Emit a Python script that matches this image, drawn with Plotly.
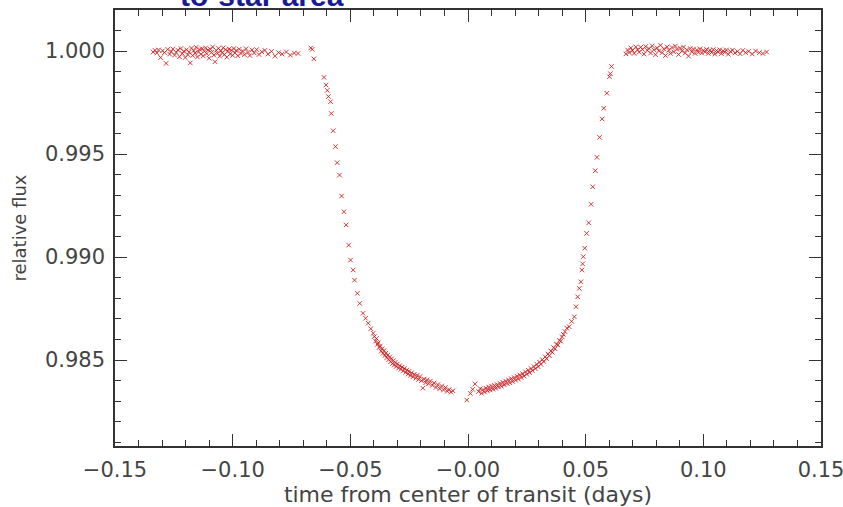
import plotly.graph_objects as go

# ---- data (time in days, relative flux) ----
pre_t = [-0.1338, -0.1330, -0.1322, -0.1315, -0.1306, -0.1298, -0.1290, -0.1283, -0.1276, -0.1268,
         -0.1261, -0.1254, -0.1247, -0.1240, -0.1233, -0.1226, -0.1220, -0.1214, -0.1208, -0.1202,
         -0.1196, -0.1190, -0.1185, -0.1180, -0.1175, -0.1170, -0.1165, -0.1160, -0.1155, -0.1150,
         -0.1145, -0.1140, -0.1135, -0.1130, -0.1125, -0.1120, -0.1115, -0.1110, -0.1105, -0.1100,
         -0.1095, -0.1090, -0.1085, -0.1080, -0.1075, -0.1070, -0.1065, -0.1060, -0.1055, -0.1050,
         -0.1045, -0.1040, -0.1035, -0.1030, -0.1025, -0.1020, -0.1015, -0.1010, -0.1005, -0.1000,
         -0.0995, -0.0990, -0.0985, -0.0978, -0.0972, -0.0965, -0.0958, -0.0950, -0.0943, -0.0935,
         -0.0927, -0.0918, -0.0908, -0.0898, -0.0888, -0.0876, -0.0863, -0.0850, -0.0835, -0.0820,
         -0.0805, -0.0790, -0.0772, -0.0755, -0.0738, -0.0722, -0.0668, -0.0662, -0.0655]
pre_f = [0.99995, 1.00003, 0.99990, 1.00005, 0.99968, 1.00001, 0.99992, 0.99940, 1.00008, 0.99985,
         0.99997, 1.00010, 0.99980, 0.99993, 1.00004, 0.99972, 1.00012, 0.99988, 0.99998, 0.99968,
         1.00006, 0.99982, 0.99995, 0.99942, 1.00014, 0.99978, 1.00002, 0.99990, 1.00018, 0.99971,
         0.99996, 1.00008, 0.99984, 1.00011, 0.99976, 0.99999, 1.00015, 0.99987, 1.00005, 0.99965,
         1.00009, 0.99993, 1.00020, 0.99980, 0.99948, 1.00003, 0.99989, 1.00013, 0.99975, 1.00001,
         0.99992, 1.00016, 0.99983, 1.00006, 0.99970, 0.99998, 1.00010, 0.99986, 1.00004, 0.99979,
         1.00012, 0.99991, 1.00002, 0.99977, 1.00009, 0.99988, 1.00000, 0.99982, 1.00011, 0.99993,
         0.99978, 1.00005, 0.99990, 1.00007, 0.99983, 0.99996, 1.00003, 0.99985, 0.99998, 0.99975,
         0.99992, 0.99985, 0.99995, 0.99980, 0.99990, 0.99988, 1.00015, 1.00008, 0.99962]

ingress_t = [-0.0612, -0.0603, -0.0598, -0.0593, -0.0584, -0.0581, -0.0573, -0.0563, -0.0556, -0.0546,
             -0.0537, -0.0527, -0.0518, -0.0507, -0.0499, -0.0488, -0.0482, -0.0470, -0.0460, -0.0446,
             -0.0435, -0.0424, -0.0413, -0.0403]
ingress_f = [0.99872, 0.99835, 0.99809, 0.99779, 0.99754, 0.99697, 0.99613, 0.99536, 0.99458, 0.99398,
             0.99296, 0.99220, 0.99156, 0.99058, 0.98985, 0.98937, 0.98888, 0.98824, 0.98775, 0.98727,
             0.98703, 0.98679, 0.98652, 0.98630]

bottom_left_t = [-0.0398, -0.0393, -0.0389, -0.0385, -0.0381, -0.0377, -0.0373, -0.0369, -0.0365, -0.0361,
                 -0.0357, -0.0353, -0.0349, -0.0345, -0.0341, -0.0337, -0.0333, -0.0329, -0.0325, -0.0321,
                 -0.0317, -0.0313, -0.0309, -0.0305, -0.0300, -0.0295, -0.0290, -0.0285, -0.0280, -0.0275,
                 -0.0270, -0.0265, -0.0260, -0.0255, -0.0250, -0.0245, -0.0240, -0.0234, -0.0228, -0.0222,
                 -0.0216, -0.0210, -0.0204, -0.0198, -0.0192, -0.0186, -0.0180, -0.0174, -0.0168, -0.0160,
                 -0.0152, -0.0144, -0.0136, -0.0128, -0.0120, -0.0112, -0.0104, -0.0096, -0.0088, -0.0080,
                 -0.0072, -0.0064]
bottom_left_f = [0.98614, 0.98592, 0.98605, 0.98576, 0.98584, 0.98561, 0.98568, 0.98543, 0.98555, 0.98533,
                 0.98546, 0.98522, 0.98533, 0.98511, 0.98524, 0.98502, 0.98515, 0.98492, 0.98506, 0.98483,
                 0.98497, 0.98476, 0.98489, 0.98469, 0.98481, 0.98461, 0.98473, 0.98455, 0.98466, 0.98447,
                 0.98459, 0.98440, 0.98452, 0.98432, 0.98446, 0.98425, 0.98438, 0.98419, 0.98431, 0.98412,
                 0.98426, 0.98406, 0.98420, 0.98400, 0.98364, 0.98408, 0.98390, 0.98404, 0.98385, 0.98398,
                 0.98377, 0.98389, 0.98367, 0.98381, 0.98361, 0.98374, 0.98355, 0.98367, 0.98349, 0.98357,
                 0.98344, 0.98351]

center_t = [-0.0005, 0.0010, 0.0020, 0.0030]
center_f = [0.98306, 0.98338, 0.98358, 0.98384]

bottom_right_t = [0.0045, 0.0052, 0.0058, 0.0064, 0.0070, 0.0076, 0.0082, 0.0088, 0.0094, 0.0100,
                  0.0106, 0.0112, 0.0118, 0.0124, 0.0130, 0.0136, 0.0142, 0.0148, 0.0154, 0.0160,
                  0.0166, 0.0172, 0.0178, 0.0184, 0.0190, 0.0196, 0.0202, 0.0208, 0.0214, 0.0220,
                  0.0226, 0.0232, 0.0238, 0.0244, 0.0250, 0.0256, 0.0262, 0.0268, 0.0274, 0.0280,
                  0.0286, 0.0292, 0.0298, 0.0304, 0.0310, 0.0316, 0.0322, 0.0328, 0.0334, 0.0340,
                  0.0346, 0.0352, 0.0358, 0.0364, 0.0370, 0.0376, 0.0382, 0.0388, 0.0394, 0.0400,
                  0.0405]
bottom_right_f = [0.98347, 0.98361, 0.98339, 0.98357, 0.98345, 0.98364, 0.98351, 0.98369, 0.98355, 0.98374,
                  0.98359, 0.98377, 0.98363, 0.98381, 0.98369, 0.98387, 0.98373, 0.98392, 0.98380, 0.98398,
                  0.98386, 0.98404, 0.98390, 0.98410, 0.98396, 0.98415, 0.98402, 0.98422, 0.98408, 0.98428,
                  0.98415, 0.98434, 0.98422, 0.98443, 0.98431, 0.98451, 0.98439, 0.98459, 0.98449, 0.98469,
                  0.98458, 0.98480, 0.98468, 0.98490, 0.98479, 0.98502, 0.98493, 0.98516, 0.98507, 0.98529,
                  0.98521, 0.98544, 0.98538, 0.98560, 0.98555, 0.98577, 0.98573, 0.98595, 0.98592, 0.98613,
                  0.98625]

egress_t = [0.0412, 0.0420, 0.0430, 0.0440, 0.0452, 0.0459, 0.0466, 0.0473, 0.0480, 0.0484,
            0.0487, 0.0490, 0.0496, 0.0504, 0.0513, 0.0523, 0.0530, 0.0541, 0.0548, 0.0559,
            0.0570, 0.0577, 0.0590, 0.0601, 0.0605, 0.0610]
egress_f = [0.98638, 0.98655, 0.98662, 0.98688, 0.98710, 0.98759, 0.98807, 0.98848, 0.98880, 0.98937,
            0.98967, 0.99002, 0.99043, 0.99115, 0.99166, 0.99256, 0.99341, 0.99419, 0.99484, 0.99581,
            0.99670, 0.99722, 0.99795, 0.99875, 0.99890, 0.99925]

post_t = [0.0671, 0.0678, 0.0685, 0.0692, 0.0699, 0.0706, 0.0713, 0.0720, 0.0727, 0.0734,
          0.0741, 0.0748, 0.0755, 0.0762, 0.0769, 0.0776, 0.0783, 0.0790, 0.0797, 0.0804,
          0.0811, 0.0818, 0.0825, 0.0832, 0.0839, 0.0846, 0.0853, 0.0860, 0.0867, 0.0874,
          0.0881, 0.0888, 0.0895, 0.0902, 0.0909, 0.0916, 0.0923, 0.0930, 0.0937, 0.0944,
          0.0951, 0.0958, 0.0965, 0.0972, 0.0979, 0.0986, 0.0993, 0.1000, 0.1007, 0.1014,
          0.1021, 0.1028, 0.1035, 0.1042, 0.1049, 0.1056, 0.1063, 0.1070, 0.1077, 0.1084,
          0.1091, 0.1098, 0.1106, 0.1115, 0.1124, 0.1134, 0.1145, 0.1156, 0.1168, 0.1180,
          0.1193, 0.1208, 0.1222, 0.1238, 0.1253, 0.1269]
post_f = [0.99986, 1.00005, 0.99992, 1.00015, 1.00002, 0.99988, 1.00020, 1.00006, 0.99994, 1.00018,
          1.00008, 0.99985, 1.00022, 1.00003, 1.00012, 0.99990, 1.00025, 1.00006, 0.99982, 1.00015,
          1.00001, 1.00028, 0.99992, 1.00010, 0.99978, 1.00020, 1.00004, 0.99988, 1.00017, 0.99996,
          1.00024, 1.00008, 0.99983, 1.00014, 0.99999, 1.00019, 0.99990, 1.00006, 0.99975, 1.00012,
          0.99996, 1.00009, 0.99988, 1.00005, 0.99994, 1.00011, 0.99990, 1.00003, 0.99996, 1.00008,
          0.99988, 1.00004, 0.99993, 1.00007, 0.99985, 1.00002, 0.99995, 1.00006, 0.99987, 1.00001,
          0.99994, 1.00005, 0.99984, 0.99998, 1.00004, 0.99990, 0.99998, 0.99987, 1.00003, 0.99992,
          0.99998, 0.99985, 1.00000, 0.99992, 0.99988, 0.99995]

x_tickvals = [-0.15, -0.10, -0.05, 0.0, 0.05, 0.10, 0.15]
x_ticktext = ["\u22120.15", "\u22120.10", "\u22120.05", "\u22120.00", "0.05", "0.10", "0.15"]
y_tickvals = [0.985, 0.990, 0.995, 1.000]
y_ticktext = ["0.985", "0.990", "0.995", "1.000"]

x_title = "time from center of transit (days)"
y_title = "relative flux"
top_text = "to-star area"

# ---- build figure ----
all_t = pre_t + ingress_t + bottom_left_t + center_t + bottom_right_t + egress_t + post_t
all_f = pre_f + ingress_f + bottom_left_f + center_f + bottom_right_f + egress_f + post_f

fig = go.Figure()
fig.add_trace(go.Scatter(
    x=all_t, y=all_f, mode="markers",
    marker=dict(symbol="x-thin", size=4.5,
                line=dict(width=1, color="rgba(205,25,25,0.85)"),
                color="rgba(205,25,25,0.85)"),
    showlegend=False, hoverinfo="skip", cliponaxis=True))

axis_common = dict(
    showline=True, linecolor="#333333", linewidth=1.5, mirror="allticks",
    ticks="inside", ticklen=12, tickwidth=1, tickcolor="#333333",
    showgrid=False, zeroline=False, automargin=False, ticklabeloverflow="allow",
    tickfont=dict(family="DejaVu Sans", size=21, color="#444444"),
)

fig.update_layout(
    width=843, height=507,
    margin=dict(l=115, r=22, t=10, b=61, autoexpand=False),
    paper_bgcolor="white", plot_bgcolor="white",
    xaxis=dict(range=[-0.15, 0.15], tickmode="array", tickvals=x_tickvals, ticktext=x_ticktext,
               minor=dict(dtick=0.01, tick0=0, ticks="inside", ticklen=6, tickcolor="#333333", showgrid=False),
               ticklabelstandoff=4,
               title=dict(text=x_title, font=dict(family="DejaVu Sans", size=22, color="#444444"), standoff=1),
               **axis_common),
    yaxis=dict(range=[0.98083, 1.00199], tickmode="array", tickvals=y_tickvals, ticktext=y_ticktext,
               minor=dict(dtick=0.001, tick0=0.98, ticks="inside", ticklen=6, tickcolor="#333333", showgrid=False),
               ticklabelstandoff=4,
               title=dict(text=y_title, font=dict(family="DejaVu Sans", size=18, color="#444444"), standoff=14),
               **axis_common),
    annotations=[dict(text="<b>" + top_text + "</b>", xref="paper", yref="paper",
                      x=(178 - 115) / 706, y=0.99, xanchor="left", yanchor="bottom",
                      showarrow=False,
                      font=dict(family="Liberation Sans", size=30, color="#1a1a99"))],
)

fig.write_html("out.html", config={"displayModeBar": False},
               post_script="document.body.style.margin='0px';")
